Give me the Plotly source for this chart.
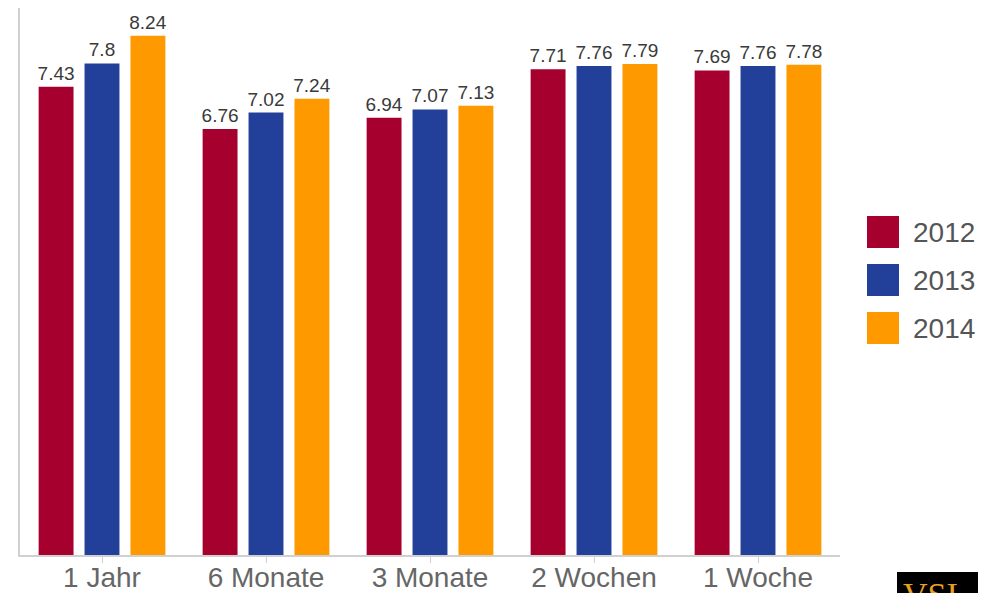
import plotly.graph_objects as go

categories = ["1 Jahr", "6 Monate", "3 Monate", "2 Wochen", "1 Woche"]
years = ["2012", "2013", "2014"]
values_2012 = [7.43, 6.76, 6.94, 7.71, 7.69]
values_2013 = [7.8, 7.02, 7.07, 7.76, 7.76]
values_2014 = [8.24, 7.24, 7.13, 7.79, 7.78]
colors = ["#A6002F", "#22409A", "#FF9900"]

W, H = 986, 593
OFF = 8  # default page body margin
L, R, T, B = 12, 154, 0, 46
pw, ph = W - L - R, H - T - B

def px(x):
    return (x - OFF - L) / pw

def py(y):
    return (H - B - (y - OFF)) / ph

fig = go.Figure()
for name, vals, col in zip(years, [values_2012, values_2013, values_2014], colors):
    fig.add_trace(go.Bar(
        x=categories, y=vals, name=name,
        marker=dict(color=col, line=dict(width=0)),
        text=[str(v) for v in vals], textposition="outside",
        constraintext="none",
        textfont=dict(family="Liberation Sans, Arial, sans-serif", size=19, color="#3a3a3a"),
        cliponaxis=False, showlegend=False,
    ))

shapes = []
annotations = []
# custom legend
for i, (name, col) in enumerate(zip(years, colors)):
    y0 = 216 + i * 48
    shapes.append(dict(type="rect", xref="paper", yref="paper",
                       x0=px(867), x1=px(899), y0=py(y0 + 32), y1=py(y0),
                       fillcolor=col, line=dict(width=0)))
    annotations.append(dict(xref="paper", yref="paper", x=px(911), y=py(y0 + 16),
                            xanchor="left", yanchor="middle", text=name, showarrow=False,
                            font=dict(family="Liberation Sans, Arial, sans-serif", size=28, color="#555555")))

# logo fragment bottom right
shapes.append(dict(type="rect", xref="paper", yref="paper",
                   x0=px(897), x1=px(1000), y0=py(610), y1=py(572),
                   fillcolor="#000000", line=dict(width=0)))
annotations.append(dict(xref="paper", yref="paper", x=px(901), y=py(574),
                        xanchor="left", yanchor="top", text="VSI", showarrow=False,
                        font=dict(family="Liberation Serif, serif", size=34, color="#E8A020")))

fig.update_layout(
    width=W, height=H,
    margin=dict(l=L, r=R, t=T, b=B, pad=0),
    paper_bgcolor="white", plot_bgcolor="white",
    barmode="group", bargap=0.16, bargroupgap=0.24,
    shapes=shapes, annotations=annotations,
    xaxis=dict(showline=True, linecolor="#d0d0d0", linewidth=2, ticks="outside",
               tickcolor="#d0d0d0", ticklen=6, tickwidth=1,
               ticklabelstandoff=-10,
               tickfont=dict(family="Liberation Sans, Arial, sans-serif", size=28, color="#666666"),
               showgrid=False, automargin=False),
    yaxis=dict(range=[0, 8.68], showline=True, linecolor="#d0d0d0", linewidth=2,
               showticklabels=False, showgrid=False, zeroline=False, ticks="",
               automargin=False),
)

fig.write_html("out.html")
